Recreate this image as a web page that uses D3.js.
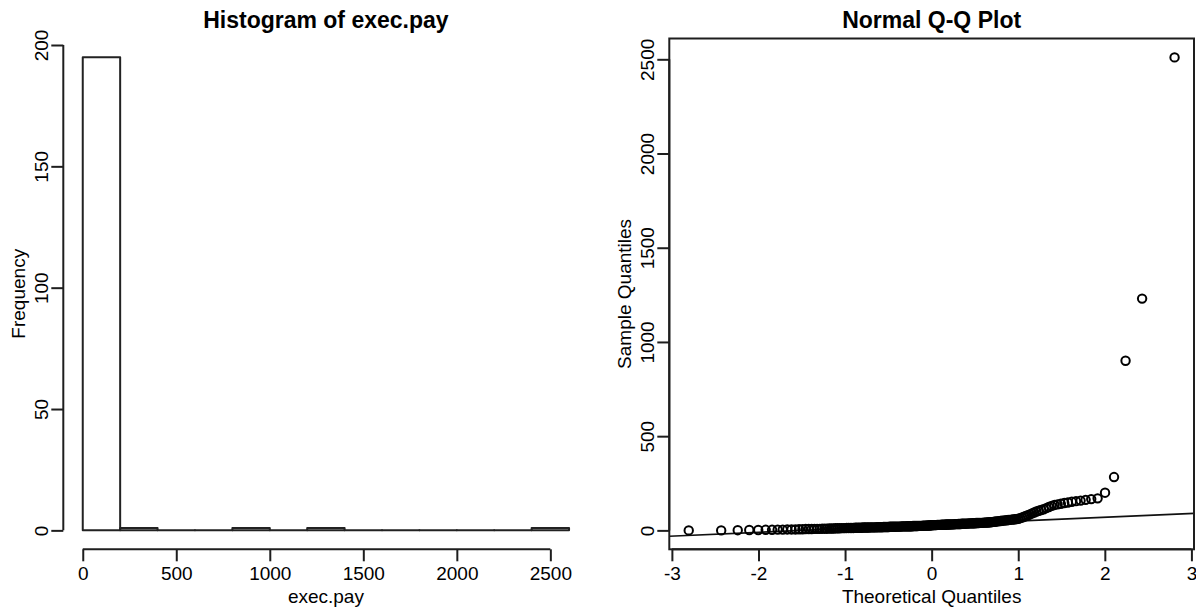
<!DOCTYPE html>
<html>
<head>
<meta charset="utf-8">
<script src="https://cdn.jsdelivr.net/npm/d3@7"></script>
<style>
  html, body { margin: 0; padding: 0; background: #fff; }
  svg { display: block; font-family: "Liberation Sans", Arial, Helvetica, sans-serif; }
</style>
</head>
<body>
<svg id="chart" width="1196" height="609"></svg>
<script>
// ---------------- data ----------------
const histTitle = "Histogram of exec.pay";
const histXLabel = "exec.pay";
const histYLabel = "Frequency";
const histBreaks = [0, 200, 400, 600, 800, 1000, 1200, 1400, 1600, 1800, 2000, 2200, 2400, 2600];
const histCounts = [195, 1, 0, 0, 1, 0, 1, 0, 0, 0, 0, 0, 1];
const histXTicks = [0, 500, 1000, 1500, 2000, 2500];
const histYTicks = [0, 50, 100, 150, 200];

const qqTitle = "Normal Q-Q Plot";
const qqXLabel = "Theoretical Quantiles";
const qqYLabel = "Sample Quantiles";
const qqXTicks = [-3, -2, -1, 0, 1, 2, 3];
const qqYTicks = [0, 500, 1000, 1500, 2000, 2500];
// sorted sample values (exec.pay)
const payValues = [
  0,0,1,2,2,3,3,4,4,5,5,5,6,6,7,7,7,8,8,8,9,9,9,10,10,10,11,11,11,12,12,12,
  13,13,13,13,13,14,14,14,14,14,15,15,15,15,15,16,16,16,16,16,17,17,17,17,17,
  18,18,18,18,18,19,19,19,19,19,20,20,20,20,20,21,21,21,21,21,22,22,22,22,22,
  23,23,23,23,23,24,24,24,24,25,25,25,25,26,26,26,27,27,
  28,28,28,28,29,29,29,29,30,30,30,30,31,31,31,31,32,32,32,32,33,33,33,34,34,34,
  35,35,35,36,36,36,37,37,37,38,38,38,39,39,39,40,40,40,41,41,42,42,43,43,
  44,45,46,47,48,49,50,51,52,53,54,55,56,57,58,59,60,
  62,65,68,72,76,80,85,90,95,100,104,108,112,118,124,130,135,138,141,145,148,152,155,158,162,166,170,
  200,283,900,1230,2510
];

// ---------------- helpers ----------------
function qnorm(p) {
  const a=[-3.969683028665376e+01,2.209460984245205e+02,-2.759285104469687e+02,1.383577518672690e+02,-3.066479806614716e+01,2.506628277459239e+00];
  const b=[-5.447609879822406e+01,1.615858368580409e+02,-1.556989798598866e+02,6.680131188771972e+01,-1.328068155288572e+01];
  const c=[-7.784894002430293e-03,-3.223964580411365e-01,-2.400758277161838e+00,-2.549732539343734e+00,4.374664141464968e+00,2.938163982698783e+00];
  const d=[7.784695709041462e-03,3.224671290700398e-01,2.445134137142996e+00,3.754408661907416e+00];
  const plow=0.02425, phigh=1-plow; let q, r;
  if (p < plow) { q=Math.sqrt(-2*Math.log(p)); return (((((c[0]*q+c[1])*q+c[2])*q+c[3])*q+c[4])*q+c[5])/((((d[0]*q+d[1])*q+d[2])*q+d[3])*q+1); }
  if (p <= phigh) { q=p-0.5; r=q*q; return (((((a[0]*r+a[1])*r+a[2])*r+a[3])*r+a[4])*r+a[5])*q/(((((b[0]*r+b[1])*r+b[2])*r+b[3])*r+b[4])*r+1); }
  q=Math.sqrt(-2*Math.log(1-p)); return -(((((c[0]*q+c[1])*q+c[2])*q+c[3])*q+c[4])*q+c[5])/((((d[0]*q+d[1])*q+d[2])*q+d[3])*q+1);
}
function extRange(lo, hi) { const e = (hi - lo) * 0.04; return [lo - e, hi + e]; }

const svg = d3.select("#chart");
const INK = "#1e1e1e";
const TICK = 12, FS = 19, TFS = 23;

function drawXAxis(g, x, ticks, yPos) {
  const ax = d3.axisBottom(x).tickValues(ticks).tickSize(TICK).tickSizeOuter(0).tickFormat(d3.format("d"));
  const a = g.append("g").attr("transform", `translate(0,${yPos})`).call(ax);
  a.select(".domain").remove();
  a.selectAll(".tick line").attr("stroke", INK).attr("stroke-width", 2);
  a.selectAll(".tick text").attr("y", 31).attr("dy", 0).attr("font-size", FS).attr("fill", "#000")
    .text(d => d < 0 ? "-" + Math.abs(d) : d);
  a.append("line").attr("x1", x(ticks[0])).attr("x2", x(ticks[ticks.length - 1]))
    .attr("stroke", INK).attr("stroke-width", 2);
}
function drawYAxis(g, y, ticks, xPos) {
  const ax = d3.axisLeft(y).tickValues(ticks).tickSize(TICK).tickSizeOuter(0).tickFormat(d3.format("d"));
  const a = g.append("g").attr("transform", `translate(${xPos},0)`).call(ax);
  a.select(".domain").remove();
  a.selectAll(".tick line").attr("stroke", INK).attr("stroke-width", 2);
  a.selectAll(".tick text").attr("transform", "rotate(-90)").attr("x", 0).attr("y", -15).attr("dy", 0)
    .attr("text-anchor", "middle").attr("font-size", FS).attr("fill", "#000");
  a.append("line").attr("y1", y(ticks[0])).attr("y2", y(ticks[ticks.length - 1]))
    .attr("stroke", INK).attr("stroke-width", 2);
}

// ---------------- histogram ----------------
const hx = d3.scaleLinear().domain(extRange(histBreaks[0], histBreaks[histBreaks.length - 1])).range([63.3, 588.5]);
const hy = d3.scaleLinear().domain(extRange(0, d3.max(histCounts))).range([549.3, 38.2]);
const gh = svg.append("g");
const bins = histCounts.map((c, i) => ({ x0: histBreaks[i], x1: histBreaks[i + 1], n: c }));
gh.selectAll("path.bar").data(bins).join("path").attr("class", "bar")
  .attr("d", b => `M${hx(b.x0)},${hy(0)}V${hy(b.n)}H${hx(b.x1)}V${hy(0)}Z`)
  .attr("fill", "none").attr("stroke", "#222").attr("stroke-width", 2).attr("stroke-linejoin", "round");
drawXAxis(gh, hx, histXTicks, 549.3);
drawYAxis(gh, hy, histYTicks, 63.3);
const hcx = (hx.range()[0] + hx.range()[1]) / 2;
const hcy = (hy.range()[0] + hy.range()[1]) / 2;
gh.append("text").attr("x", hcx).attr("y", 28).attr("text-anchor", "middle")
  .attr("font-size", TFS).attr("font-weight", "bold").text(histTitle);
gh.append("text").attr("x", hcx).attr("y", 603).attr("text-anchor", "middle").attr("font-size", FS).text(histXLabel);
gh.append("text").attr("transform", `translate(25,${hcy}) rotate(-90)`).attr("text-anchor", "middle")
  .attr("font-size", FS).text(histYLabel);

// ---------------- Q-Q plot ----------------
const n = payValues.length;
const theo = payValues.map((v, i) => qnorm((i + 1 - 0.5) / n));
const qx = d3.scaleLinear().domain(extRange(d3.min(theo), d3.max(theo))).range([669.3, 1194]);
const qy = d3.scaleLinear().domain(extRange(d3.min(payValues), d3.max(payValues))).range([549.3, 38.5]);
const gq = svg.append("g");
gq.append("clipPath").attr("id", "qqclip").append("rect")
  .attr("x", qx.range()[0]).attr("y", qy.range()[1])
  .attr("width", qx.range()[1] - qx.range()[0]).attr("height", qy.range()[0] - qy.range()[1]);
// qqline through quartiles
const q1 = d3.quantile(payValues, 0.25), q3 = d3.quantile(payValues, 0.75);
const z1 = qnorm(0.25), z3 = qnorm(0.75);
const slope = (q3 - q1) / (z3 - z1), icpt = q1 - slope * z1;
const [xa, xb] = qx.domain();
gq.append("line").attr("clip-path", "url(#qqclip)")
  .attr("x1", qx(xa)).attr("y1", qy(icpt + slope * xa))
  .attr("x2", qx(xb)).attr("y2", qy(icpt + slope * xb))
  .attr("stroke", "#111").attr("stroke-width", 1.7);
gq.selectAll("circle").data(payValues).join("circle")
  .attr("cx", (d, i) => qx(theo[i])).attr("cy", d => qy(d)).attr("r", 4.2)
  .attr("fill", "none").attr("stroke", "#000").attr("stroke-width", 2);
gq.append("rect").attr("x", qx.range()[0]).attr("y", qy.range()[1])
  .attr("width", qx.range()[1] - qx.range()[0]).attr("height", qy.range()[0] - qy.range()[1])
  .attr("fill", "none").attr("stroke", INK).attr("stroke-width", 2);
drawXAxis(gq, qx, qqXTicks, 549.3);
drawYAxis(gq, qy, qqYTicks, 669.3);
const qcx = (qx.range()[0] + qx.range()[1]) / 2;
const qcy = (qy.range()[0] + qy.range()[1]) / 2;
gq.append("text").attr("x", qcx).attr("y", 28).attr("text-anchor", "middle")
  .attr("font-size", TFS).attr("font-weight", "bold").text(qqTitle);
gq.append("text").attr("x", qcx).attr("y", 603).attr("text-anchor", "middle").attr("font-size", FS).text(qqXLabel);
gq.append("text").attr("transform", `translate(631,${qcy}) rotate(-90)`).attr("text-anchor", "middle")
  .attr("font-size", FS).text(qqYLabel);
</script>
</body>
</html>
